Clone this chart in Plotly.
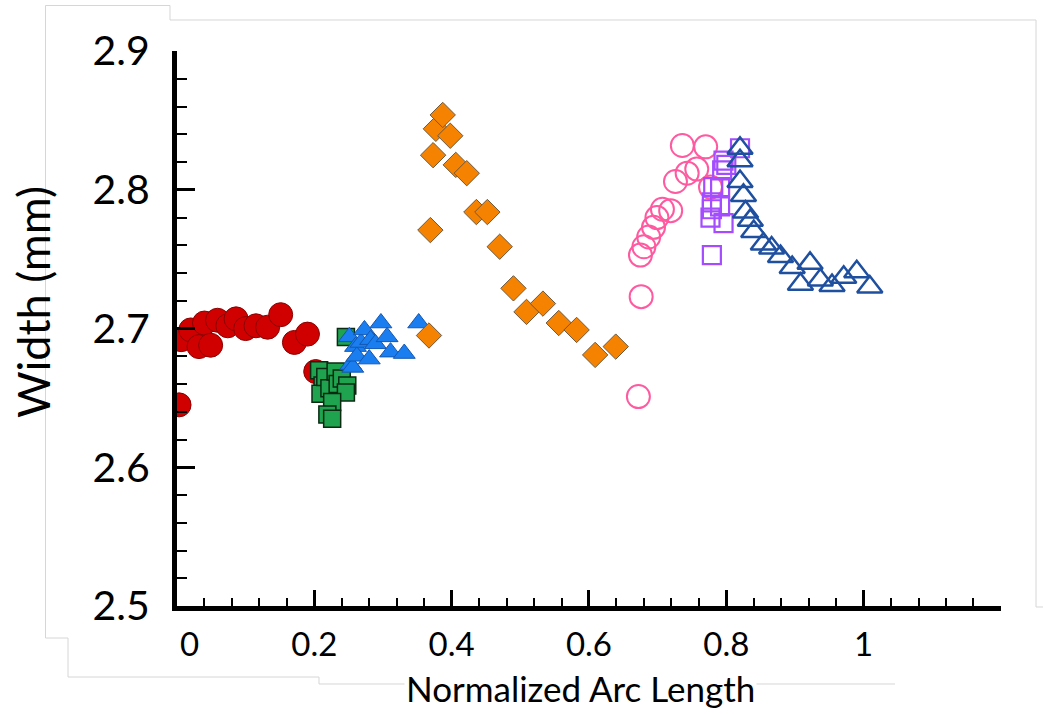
import plotly.graph_objects as go

# ---- data: width (mm) vs normalized arc length, one list pair per segment ----
red_x = [0.003, 0.006, 0.020, 0.032, 0.040, 0.049, 0.059, 0.074, 0.086, 0.100, 0.115, 0.132, 0.151, 0.171, 0.190, 0.202]
red_y = [2.645, 2.692, 2.699, 2.687, 2.704, 2.688, 2.706, 2.702, 2.707, 2.700, 2.702, 2.701, 2.710, 2.690, 2.696, 2.669]

green_x = [0.246, 0.207, 0.212, 0.209, 0.216, 0.222, 0.231, 0.234, 0.240, 0.248, 0.246, 0.226, 0.219, 0.226]
green_y = [2.694, 2.670, 2.659, 2.653, 2.665, 2.657, 2.669, 2.660, 2.664, 2.659, 2.654, 2.647, 2.638, 2.635]

blue_x = [0.251, 0.253, 0.256, 0.260, 0.262, 0.268, 0.273, 0.280, 0.282, 0.289, 0.297, 0.306, 0.311, 0.331, 0.352]
blue_y = [2.694, 2.674, 2.672, 2.687, 2.680, 2.690, 2.699, 2.678, 2.692, 2.689, 2.704, 2.694, 2.683, 2.682, 2.704]

orange_x = [0.367, 0.369, 0.373, 0.377, 0.387, 0.398, 0.406, 0.422, 0.436, 0.452, 0.470, 0.490, 0.509, 0.533, 0.556, 0.582, 0.609, 0.639]
orange_y = [2.695, 2.771, 2.825, 2.844, 2.854, 2.839, 2.818, 2.812, 2.784, 2.784, 2.759, 2.729, 2.712, 2.718, 2.704, 2.699, 2.681, 2.687]

pink_x = [0.672, 0.676, 0.675, 0.680, 0.687, 0.694, 0.699, 0.707, 0.719, 0.726, 0.736, 0.743, 0.757, 0.770, 0.777]
pink_y = [2.651, 2.723, 2.753, 2.759, 2.766, 2.773, 2.780, 2.786, 2.785, 2.806, 2.832, 2.812, 2.815, 2.831, 2.802]

purple_x = [0.779, 0.777, 0.779, 0.781, 0.791, 0.791, 0.796, 0.794, 0.796, 0.779, 0.800, 0.820]
purple_y = [2.753, 2.780, 2.791, 2.802, 2.802, 2.788, 2.776, 2.814, 2.821, 2.786, 2.818, 2.830]

navy_x = [0.820, 0.820, 0.820, 0.825, 0.828, 0.835, 0.840, 0.854, 0.866, 0.879, 0.896, 0.908, 0.922, 0.937, 0.954, 0.971, 0.990, 1.009]
navy_y = [2.830, 2.821, 2.806, 2.796, 2.784, 2.778, 2.770, 2.761, 2.758, 2.752, 2.744, 2.732, 2.747, 2.735, 2.731, 2.737, 2.741, 2.730]

x_tick_vals = [0, 0.2, 0.4, 0.6, 0.8, 1.0, 1.2]
x_tick_text = ["\u00a0\u00a0\u00a00", "0.2", "0.4", "0.6", "0.8", "1", ""]
y_tick_vals = [2.5, 2.6, 2.7, 2.8, 2.9]
y_tick_text = ["2.5", "2.6", "2.7", "2.8", "2.9"]

FONT = "Lato, 'Open Sans', sans-serif"
W, H = 1043, 714
L, R, T, B = 177, 1001, 51, 606

fig = go.Figure()

def add(xs, ys, symbol, size, fill, edge, lw):
    fig.add_trace(go.Scatter(
        x=xs, y=ys, mode="markers",
        marker=dict(symbol=symbol, size=size, color=fill,
                    line=dict(color=edge, width=lw)),
        showlegend=False, hoverinfo="skip"))

add(red_x, red_y, "circle", 24, "#d00000", "#8a0000", 1)
add(green_x, green_y, "square", 17, "#1fa34f", "#0a2a12", 1.5)
add(blue_x, blue_y, "triangle-up", 19, "#1a7ef0", "#1457b0", 1)
add(orange_x, orange_y, "diamond", 19.5, "#f58200", "#6e5a40", 1)
add(pink_x, pink_y, "circle-open", 23, "#ff5aa0", "#ff5aa0", 2)
add(purple_x, purple_y, "square-open", 18, "#a44cff", "#a44cff", 2.2)
add(navy_x, navy_y, "triangle-up-open", 22, "#1f50a0", "#1f50a0", 2.5)

# faint outline of the surrounding frame
def px(xp):
    return (xp - L) / (R - L)

def py(yp):
    return (B - yp) / (B - T)

frame_paths = [
    [(45.5, 638), (45.5, 5.5), (170, 5.5), (170, 20), (1036, 20), (1036, 607), (1043, 607)],
    [(45.5, 638), (68, 638), (68, 677), (319, 677), (319, 684), (895, 684)],
]
for pts in frame_paths:
    d = "M " + " L ".join(f"{px(a):.5f},{py(b):.5f}" for a, b in pts)
    fig.add_shape(type="path", path=d, xref="paper", yref="paper",
                  line=dict(color="#d6d6d6", width=1), layer="below")

fig.update_xaxes(
    range=[0, 1.2001], showgrid=False, zeroline=False,
    showline=True, linecolor="black", linewidth=5,
    ticks="inside", ticklen=16, tickwidth=3, tickcolor="black",
    tickmode="array", tickvals=x_tick_vals, ticktext=x_tick_text,
    minor=dict(dtick=0.04, tick0=0, ticks="inside", ticklen=8, tickwidth=1.5, tickcolor="black"),
    tickfont=dict(family=FONT, size=33, color="black"),
    ticklabelstandoff=5,
)
fig.update_yaxes(
    range=[2.5, 2.9001], showgrid=False, zeroline=False,
    showline=True, linecolor="black", linewidth=5,
    ticks="inside", ticklen=18, tickwidth=3, tickcolor="black",
    tickmode="array", tickvals=y_tick_vals, ticktext=y_tick_text,
    minor=dict(dtick=0.02, tick0=2.5, ticks="inside", ticklen=10, tickwidth=1.5, tickcolor="black"),
    tickfont=dict(family=FONT, size=41, color="black"),
    ticklabelstandoff=14,
)

fig.add_annotation(text="Normalized Arc Length", xref="paper", yref="paper",
                   x=px(580), y=py(688), xanchor="center", yanchor="middle",
                   showarrow=False, bgcolor="white",
                   font=dict(family=FONT, size=35, color="black"))
fig.add_annotation(text="Width (mm)", xref="paper", yref="paper",
                   x=px(33), y=py(302), xanchor="center", yanchor="middle",
                   showarrow=False, textangle=-90,
                   font=dict(family=FONT, size=45, color="black"))

fig.update_layout(
    width=W, height=H,
    margin=dict(l=L, r=W - R, t=T, b=H - B, pad=0),
    paper_bgcolor="white", plot_bgcolor="white",
)

fig.write_html("out.html")
